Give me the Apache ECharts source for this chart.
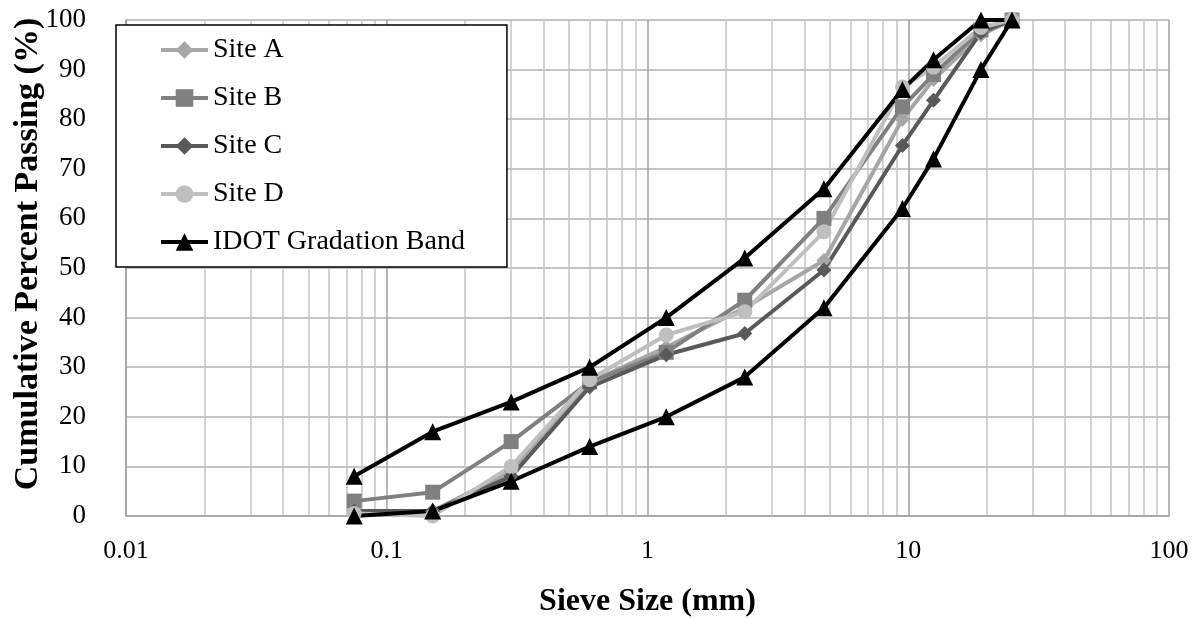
<!DOCTYPE html>
<html>
<head>
<meta charset="utf-8">
<script src="https://cdn.jsdelivr.net/npm/echarts@6/dist/echarts.min.js"></script>
<style>html,body{margin:0;padding:0;background:#fff;}#c{width:1202px;height:619px;}</style>
</head>
<body>
<div id="c"></div>
<script>
// Sieve sizes (mm)
const sieveSizes = [0.075, 0.15, 0.3, 0.6, 1.18, 2.36, 4.75, 9.5, 12.5, 19, 25];
// Cumulative percent passing per site
const siteA = [1, 1, 9, 27, 34, 42, 51.5, 80, 88, 97, 100];
const siteB = [3, 4.8, 15, 27, 33, 43.5, 60, 82.5, 89, 98, 100];
const siteC = [1, 1, 8, 26, 32.5, 36.8, 49.6, 74.7, 83.8, 97.5, 100];
const siteD = [0.5, 0, 10, 27.5, 36.5, 41.2, 57.3, 86.5, 90.5, 98.5, 100];
// IDOT gradation band limits
const idotUpper = [8, 17, 23, 30, 40, 52, 66, 86, 92, 100, 100];
const idotLower = [0, 1, 7, 14, 20, 28, 42, 62, 72, 90, 100];
// Axis ticks
const xTicks = [0.01, 0.1, 1, 10, 100];
const yTicks = [0, 10, 20, 30, 40, 50, 60, 70, 80, 90, 100];
const seriesNames = ['Site A', 'Site B', 'Site C', 'Site D', 'IDOT Gradation Band'];

const pair = (arr) => sieveSizes.map((s, i) => [s, arr[i]]);
// band drawn as one path: upper limit fine->coarse, then lower limit coarse->fine
const bandPath = pair(idotUpper).concat(
  sieveSizes.slice(0, -1).map((s, i) => [s, idotLower[i]]).reverse()
);

// minor vertical grid lines at 2..9 x each decade
const minorLines = [];
for (let d = 0; d < xTicks.length - 1; d++) {
  for (let k = 2; k <= 9; k++) minorLines.push({ xAxis: xTicks[d] * k });
}

const font = 'Liberation Serif';
const chart = echarts.init(document.getElementById('c'), null, { renderer: 'canvas' });
chart.setOption({
  animation: false,
  backgroundColor: '#ffffff',
  grid: { left: 126, right: 33, top: 20, bottom: 103, outerBoundsMode: 'none', containLabel: false },
  legend: {
    left: 116, top: 25,
    orient: 'vertical',
    data: seriesNames,
    backgroundColor: '#ffffff',
    borderColor: '#000000',
    borderWidth: 1.5,
    padding: [11, 42, 11, 43],
    itemWidth: 47, itemHeight: 22,
    itemGap: 20,
    lineStyle: { width: 4 },
    textStyle: { fontFamily: font, fontSize: 28, color: '#000' }
  },
  xAxis: {
    type: 'log', logBase: 10, min: 0.01, max: 100,
    name: 'Sieve Size (mm)', nameLocation: 'middle', nameGap: 70,
    nameTextStyle: { fontFamily: font, fontSize: 32, fontWeight: 'bold', color: '#000' },
    axisLine: { lineStyle: { color: '#a0a0a0', width: 1.5 } },
    axisTick: { show: false },
    axisLabel: {
      fontFamily: font, fontSize: 26, color: '#000', margin: 22,
      formatter: (v) => { const t = xTicks.find(x => Math.abs(x - v) / x < 1e-6); return t !== undefined ? String(t) : ''; }
    },
    splitLine: { show: true, lineStyle: { color: '#a0a0a0', width: 1.5 } }
  },
  yAxis: {
    type: 'value', min: 0, max: 100, interval: 10,
    name: 'Cumulative Percent Passing (%)', nameLocation: 'middle', nameGap: 81,
    nameMoveOverlap: false,
    nameTextStyle: { fontFamily: font, fontSize: 34, fontWeight: 'bold', color: '#000', padding: [0, 0, 0, 28] },
    axisLine: { show: true, lineStyle: { color: '#a0a0a0', width: 1.5 } },
    axisTick: { show: false },
    axisLabel: { fontFamily: font, fontSize: 27, color: '#000', margin: 40,
      formatter: (v) => yTicks.includes(v) ? String(v) : '' },
    splitLine: { show: true, lineStyle: { color: '#b0b0b0', width: 1.5 } }
  },
  series: [
    {
      name: 'Site A', type: 'line', data: pair(siteA),
      symbol: 'diamond', symbolSize: 15,
      lineStyle: { color: '#a6a6a6', width: 4 }, itemStyle: { color: '#a6a6a6' },
      markLine: {
        silent: true, symbol: 'none', label: { show: false }, z: 0,
        lineStyle: { color: '#c4c4c4', width: 1.5, type: 'solid' },
        data: minorLines
      }
    },
    {
      name: 'Site B', type: 'line', data: pair(siteB),
      symbol: 'rect', symbolSize: 15,
      lineStyle: { color: '#808080', width: 4 }, itemStyle: { color: '#808080' }
    },
    {
      name: 'Site C', type: 'line', data: pair(siteC),
      symbol: 'diamond', symbolSize: 15,
      lineStyle: { color: '#595959', width: 4 }, itemStyle: { color: '#595959' }
    },
    {
      name: 'Site D', type: 'line', data: pair(siteD),
      symbol: 'circle', symbolSize: 15,
      lineStyle: { color: '#bfbfbf', width: 4 }, itemStyle: { color: '#bfbfbf' }
    },
    {
      name: 'IDOT Gradation Band', type: 'line', data: bandPath,
      symbol: 'triangle', symbolSize: 17,
      lineStyle: { color: '#000000', width: 4 }, itemStyle: { color: '#000000' }
    }
  ]
});
</script>
</body>
</html>
